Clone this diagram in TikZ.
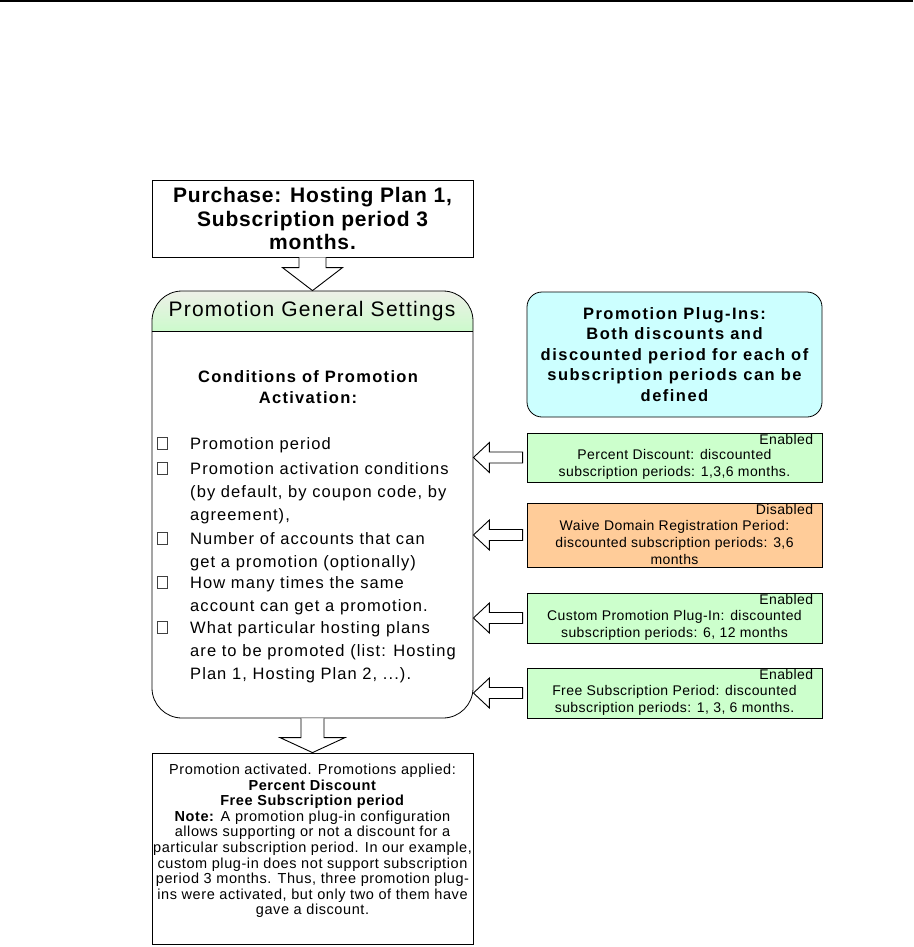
\documentclass[tikz,border=0pt]{standalone}
\usepackage{fontspec}
\setmainfont{Liberation Sans}
\usetikzlibrary{calc}
\newcommand\lsp[1]{\addfontfeature{LetterSpace=#1}}
\newcommand\fsz[2]{\fontsize{#1}{#2}\selectfont}
\definecolor{plgreen}{RGB}{204,255,204}
\definecolor{plorange}{RGB}{255,204,153}
\definecolor{plcyan}{RGB}{204,255,255}
\definecolor{hdtop}{RGB}{238,240,232}
\definecolor{hdbot}{RGB}{204,250,204}
\newcommand\arrowdown[5]{\draw[blk] let \p1=(#1.south), \p2=(#2.north) in
  (\x1-#3pt,\y1) -- (\x1-#3pt,\y2+#5pt) -- (\x1-#4pt,\y2+#5pt) -- (\x1,\y2)
  -- (\x1+#4pt,\y2+#5pt) -- (\x1+#3pt,\y2+#5pt) -- (\x1+#3pt,\y1);}
\newcommand\arrowleft[2]{\draw[blk] let \p1=(#1.west), \p2=(#2.east) in
  (\x1-4pt,\y1+5.5pt) -- (\x2+16pt,\y1+5.5pt) -- (\x2+16pt,\y1+15pt) -- (\x2,\y1)
  -- (\x2+16pt,\y1-15pt) -- (\x2+16pt,\y1-5.5pt) -- (\x1-4pt,\y1-5.5pt) -- cycle;}
\begin{document}
\begin{tikzpicture}[x=1pt,y=-1pt,
  box/.style={draw, line width=0.8pt, inner sep=0pt},
  plugbox/.style={box, minimum width=295pt},
  blk/.style={line width=0.9pt, draw, fill=white, line join=miter},
  item/.style={anchor=base west, align=left, inner sep=0pt, font=\fsz{16.5}{23}\lsp{6.5}},
  chk/.style={draw=black!75, line width=0.6pt, minimum width=10pt, minimum height=12pt, inner sep=0pt},
  stat/.style={anchor=east, inner sep=0pt, font=\fsz{14}{17}\lsp{3}},
  ptext/.style={align=center, inner sep=0pt, font=\fsz{14}{17}\lsp{3}}
]
\useasboundingbox (0,0) rectangle (913,947);
\draw[line width=2.5pt] (0,1.2) -- (913,1.2);

% purchase
\node[box, minimum width=321pt, minimum height=77pt, align=center,
  font=\bfseries\fsz{21}{23.5}\lsp{4}] (purchase) at (312.5,218.5)
  {Purchase: Hosting Plan 1,\\Subscription period 3\\months.};

% promotion general settings
\begin{scope}
\clip[rounded corners=30pt] (152,291) rectangle (473,718);
\shade[top color=hdtop, bottom color=hdbot] (152,291) rectangle (473,331);
\end{scope}
\node[box, rounded corners=30pt, minimum width=321pt, minimum height=427pt] (pgs) at (312.5,504.5) {};
\coordinate (hdl) at (0,331);
\draw[line width=0.8pt] (pgs.west |- hdl) -- (pgs.east |- hdl);
\node[inner sep=0pt, font=\fsz{21}{24}\lsp{6}] (hdr) at (312,311) {Promotion General Settings};
\node[align=center, inner sep=0pt, font=\bfseries\fsz{16.5}{21}\lsp{8}] (cond) at (308,387.5)
  {Conditions of Promotion\\Activation:};

% base anchor = baseline of last line
\node[item] (i1) at (190,449) {Promotion period};
\node[item] (i2) at (190,520) {Promotion activation conditions\\(by default, by coupon code, by\\agreement),};
\node[item] (i3) at (190,567) {Number of accounts that can\\get a promotion (optionally)};
\node[item] (i4) at (190,611) {How many times the same\\account can get a promotion.};
\node[item] (i5) at (190,679) {What particular hosting plans\\are to be promoted (list: Hosting\\Plan 1, Hosting Plan 2, ...).};
\node[chk] (c1) at (162,443) {};
\node[chk] (c2) at (162,468) {};
\node[chk] (c3) at (162,538) {};
\node[chk] (c4) at (162,582) {};
\node[chk] (c5) at (162,627) {};

% plug-ins header
\node[box, rounded corners=15pt, fill=plcyan, minimum width=295pt, minimum height=125pt,
  align=center, font=\bfseries\fsz{16.5}{20.5}\lsp{9}] (pi) at (674.5,354.5)
  {Promotion Plug-Ins:\\Both discounts and\\discounted period for each of\\subscription periods can be\\defined};

% plug-in boxes
\node[plugbox, fill=plgreen, minimum height=49pt] (p1) at (674.5,457.5) {};
\node[plugbox, fill=plorange, minimum height=64pt] (p2) at (674.5,535) {};
\node[plugbox, fill=plgreen, minimum height=50pt] (p3) at (674.5,618) {};
\node[plugbox, fill=plgreen, minimum height=50pt] (p4) at (674.5,693) {};

\node[stat] (s1) at ($(p1.north east)+(-9,7)$) {Enabled};
\node[stat] (s2) at ($(p2.north east)+(-9,7)$) {Disabled};
\node[stat] (s3) at ($(p3.north east)+(-9,7)$) {Enabled};
\node[stat] (s4) at ($(p4.north east)+(-9,7)$) {Enabled};

\node[ptext] (t1) at ($(p1.center)+(0,7)$) {Percent Discount: discounted\\subscription periods: 1,3,6 months.};
\node[ptext] (t2) at ($(p2.center)+(0,7)$) {Waive Domain Registration Period:\\discounted subscription periods: 3,6\\months};
\node[ptext] (t3) at ($(p3.center)+(0,7)$) {Custom Promotion Plug-In: discounted\\subscription periods: 6, 12 months};
\node[ptext] (t4) at ($(p4.center)+(0,7)$) {Free Subscription Period: discounted\\subscription periods: 1, 3, 6 months.};

% result
\node[box, minimum width=321pt, minimum height=191pt] (res) at (312.5,848.5) {};
\node[align=center, inner sep=0pt, font=\fsz{14.5}{15.6}\lsp{4}] (rest) at (312.5,841)
  {Promotion activated. Promotions applied:\\
   \textbf{Percent Discount}\\
   \textbf{Free Subscription period}\\
   \textbf{Note:} A promotion plug-in configuration\\
   allows supporting or not a discount for a\\
   particular subscription period. In our example,\\
   custom plug-in does not support subscription\\
   period 3 months. Thus, three promotion plug-\\
   ins were activated, but only two of them have\\
   gave a discount.};

% arrows
\arrowdown{purchase}{pgs}{13.5}{30}{23}
\arrowdown{pgs}{res}{11.5}{32.5}{15}
\arrowleft{p1}{pgs}
\arrowleft{p2}{pgs}
\arrowleft{p3}{pgs}
\arrowleft{p4}{pgs}
\end{tikzpicture}
\end{document}
